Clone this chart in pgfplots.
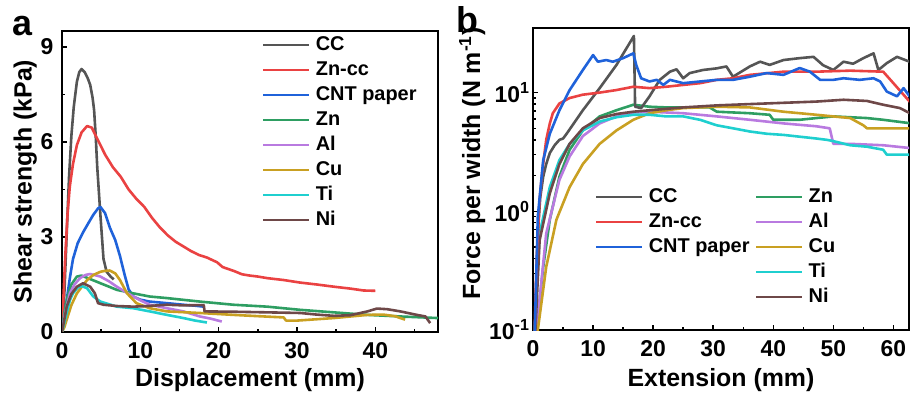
\documentclass[border=0pt]{standalone}
\usepackage{fontspec}
\setmainfont{Liberation Sans}
\usepackage{pgfplots}
\pgfplotsset{compat=1.18}
\definecolor{cCC}{HTML}{555555}
\definecolor{cZncc}{HTML}{EA4242}
\definecolor{cCNT}{HTML}{1F62DA}
\definecolor{cZn}{HTML}{2E9E62}
\definecolor{cAl}{HTML}{B97AE0}
\definecolor{cCu}{HTML}{C9A022}
\definecolor{cTi}{HTML}{1FCFCF}
\definecolor{cNi}{HTML}{6E4848}
\pgfplotsset{
  myaxis/.style={
    scale only axis, width=376bp,
    axis line style={line width=1.9bp},
    every tick/.style={line width=1.4bp, black},
    major tick length=5bp, minor tick length=3bp,
    xtick pos=bottom, ytick pos=left, tick align=inside,
    /pgf/number format/assume math mode=true,
    tick label style={font=\bfseries\fontsize{23}{23}\selectfont},
    xticklabel style={yshift=-7bp},
    label style={font=\bfseries\fontsize{25}{25}\selectfont},
    every axis plot/.append style={line width=2.6bp, line join=round},
    legend style={draw=none, fill=none, inner sep=0pt, outer sep=0pt,
      font=\bfseries\fontsize{20}{20}\selectfont,
      nodes={inner sep=0pt, anchor=west, text height=15bp, text depth=4bp},
      row sep=6bp, column sep=5bp},
    legend cell align=left,
    legend image code/.code={\draw[##1,line width=2.8bp] (0bp,0bp) -- (46bp,0bp);},
  }
}
\begin{document}
\begin{tikzpicture}
\path[use as bounding box] (0,0) rectangle (910bp,396bp);
\node[font=\bfseries\fontsize{36}{36}\selectfont, inner sep=0pt] at (22.5bp,370bp) {a};
\node[font=\bfseries\fontsize{36}{36}\selectfont, inner sep=0pt] at (467bp,376bp) {b};
% Panel a
\begin{axis}[myaxis, height=301bp, at={(62bp,64bp)}, anchor=south west,
  xmin=0, xmax=48, ymin=0, ymax=9.5,
  xtick={0,10,20,30,40}, ytick={0,3,6,9},
  minor xtick={5,15,25,35,45}, minor ytick={1.5,4.5,7.5},
  yticklabel style={xshift=-5bp},
  xlabel={Displacement (mm)}, ylabel={Shear strength (kPa)},
  xlabel style={at={(axis description cs:0.5,-0.16)}, anchor=center},
  ylabel style={at={(axis description cs:-0.098,0.5)}, anchor=center},
  legend style={at={(axis description cs:0.532,0.985)}, anchor=north west},
]
\addplot[cCC] coordinates {(0,0) (0.3,1.2) (0.6,3.1) (0.9,4.9) (1.2,6.2) (1.5,7.1) (1.9,7.9) (2.2,8.2) (2.5,8.3) (2.9,8.2) (3.3,8.0) (3.6,7.8) (3.9,7.4) (4.1,7.0) (4.3,6.2) (4.5,5.2) (4.9,3.7) (5.3,2.3) (5.7,1.9) (6.2,1.75) (6.6,1.66)};
\addlegendentry{CC}
\addplot[cZncc] coordinates {(0,0) (0.2,1.2) (0.4,2.3) (0.7,3.7) (1.0,4.6) (1.4,5.3) (1.9,5.9) (2.5,6.3) (3.2,6.5) (3.8,6.45) (4.5,6.1) (5.5,5.6) (6.5,5.2) (7.5,4.9) (8.5,4.5) (9.5,4.2) (10.5,3.95) (11.5,3.6) (12.5,3.3) (13.5,3.05) (14.5,2.85) (15.5,2.7) (16.5,2.55) (17.5,2.43) (18.5,2.35) (19.8,2.2) (20.5,2.05) (21.9,1.93) (23,1.82) (24,1.78) (25,1.75) (26.2,1.7) (28.3,1.64) (30.4,1.56) (32.5,1.5) (34.7,1.43) (36.8,1.37) (38.5,1.31) (40,1.3)};
\addlegendentry{Zn-cc}
\addplot[cCNT] coordinates {(0,0) (0.3,0.5) (0.6,1.0) (1.0,1.7) (1.4,2.3) (2.0,2.8) (2.7,3.15) (3.4,3.45) (4.0,3.7) (4.6,3.9) (4.9,3.95) (5.5,3.75) (6.1,3.3) (6.8,2.9) (7.4,2.4) (8.0,1.8) (8.5,1.35) (9.1,1.12) (10,1.02) (11.2,0.96) (13.4,0.91) (15.5,0.86) (17,0.83) (18.1,0.8)};
\addlegendentry{CNT paper}
\addplot[cZn] coordinates {(0,0) (0.3,0.6) (0.7,1.1) (1.2,1.5) (1.9,1.75) (2.5,1.78) (3.5,1.68) (4.9,1.54) (7,1.33) (9.1,1.22) (11.2,1.12) (13.4,1.07) (17.6,0.96) (21.9,0.86) (26.2,0.8) (30.4,0.7) (34.7,0.62) (39,0.54) (43.2,0.49) (48,0.44)};
\addlegendentry{Zn}
\addplot[cAl] coordinates {(0,0) (0.4,0.6) (1,1.22) (1.6,1.5) (2.3,1.7) (3,1.8) (3.6,1.83) (4.9,1.75) (6,1.6) (7,1.43) (8,1.28) (9.1,1.12) (10,1.0) (11.2,0.86) (13.4,0.75) (15.5,0.65) (17.6,0.49) (19,0.42) (20.4,0.33)};
\addlegendentry{Al}
\addplot[cCu] coordinates {(0,0) (0.3,0.15) (0.6,0.39) (1.2,0.85) (1.9,1.22) (2.6,1.45) (3.2,1.64) (4,1.8) (4.9,1.9) (5.5,1.93) (6.1,1.94) (6.8,1.85) (7.4,1.64) (8.3,1.22) (9.5,0.91) (11.2,0.75) (13.4,0.65) (17.6,0.6) (21.9,0.54) (25,0.5) (28.3,0.46) (28.6,0.36) (30,0.36) (34.7,0.44) (39,0.54) (41,0.55) (42.5,0.5) (43.8,0.39)};
\addlegendentry{Cu}
\addplot[cTi] coordinates {(0,0) (0.3,0.3) (0.6,0.6) (1,1.0) (1.4,1.22) (2,1.4) (2.5,1.45) (3.2,1.38) (4,1.12) (4.9,0.96) (7,0.8) (9.1,0.75) (11.2,0.65) (13.4,0.54) (15.5,0.44) (17,0.36) (18.5,0.3)};
\addlegendentry{Ti}
\addplot[cNi] coordinates {(0,0) (0.3,0.4) (0.6,0.8) (1.2,1.2) (1.9,1.43) (2.7,1.54) (3.6,1.43) (4.2,1.22) (4.6,0.91) (5.3,0.86) (7,0.82) (9.1,0.8) (11,0.82) (13.4,0.86) (15.5,0.84) (18.1,0.85) (18.2,0.65) (21.9,0.64) (26.2,0.62) (30.4,0.6) (32.5,0.55) (34.7,0.51) (36.8,0.53) (39,0.65) (40.2,0.74) (41.5,0.72) (43.2,0.65) (45.3,0.54) (46.4,0.49) (47,0.28)};
\addlegendentry{Ni}
\end{axis}
% Panel b
\begin{axis}[myaxis, height=302bp, at={(533bp,66bp)}, anchor=south west,
  ymode=log, xmin=0, xmax=62.6, ymin=0.1, ymax=35,
  xtick={0,10,20,30,40,50,60}, minor xtick={5,15,25,35,45,55},
  ytick={0.1,1,10}, yticklabels={10\textsuperscript{-1},10\textsuperscript{0},10\textsuperscript{1}},
  xlabel={Extension (mm)}, ylabel={Force per width (N m\textsuperscript{-1})},
  xlabel style={at={(axis description cs:0.5,-0.166)}, anchor=center},
  ylabel style={at={(axis description cs:-0.162,0.551)}, anchor=center},
  legend style={at={(axis description cs:0.165,0.472)}, anchor=north west},
]
\addplot[cZn, forget plot] coordinates {(0.4,0.05) (0.6,0.1) (1.7,0.34) (2.8,0.85) (4.4,1.96) (6.1,3.3) (8.3,4.8) (11.1,6.3) (13.9,7.1) (16.7,7.9) (19.4,7.6) (22.2,7.5) (25,7.5) (29.4,7.5) (30.6,6.9) (36.1,6.7) (39.4,6.5) (40,5.9) (44.4,5.9) (47.2,6.1) (50,6.3) (55.6,6.1) (58.3,5.9) (63,5.5)};
\addplot[cAl, forget plot] coordinates {(0.4,0.05) (0.6,0.1) (2.2,0.65) (4.4,1.84) (6.1,2.9) (8.3,4.3) (11.1,5.5) (13.9,6.3) (16.7,6.8) (19.4,6.9) (25,6.7) (30.6,6.3) (36.1,5.9) (41.7,5.5) (47.2,5.2) (49.4,5.0) (50,3.7) (52.8,3.7) (58.3,3.6) (63,3.4)};
\addplot[cCu, forget plot] coordinates {(0.6,0.05) (0.8,0.1) (2.2,0.34) (3.9,0.85) (6.1,1.6) (8.3,2.5) (11.1,3.7) (13.9,4.8) (16.7,5.9) (19.4,6.7) (22.2,7.1) (25,7.4) (30.6,7.6) (36.1,7.5) (41.7,6.9) (47.2,6.5) (52.8,6.1) (55,5.3) (55.6,5.0) (63,5.0)};
\addplot[cTi, forget plot] coordinates {(0.2,0.05) (0.3,0.1) (1.1,0.65) (2.8,1.6) (4.4,2.7) (6.1,3.7) (8.3,4.8) (11.1,5.7) (13.9,6.2) (16.7,6.5) (19.4,6.5) (22.2,6.3) (25,6.3) (27.8,5.9) (30.6,5.3) (33.3,5.0) (36.1,4.7) (38.9,4.5) (41.7,4.4) (47.2,4.1) (48.9,4.0) (50,3.9) (52.8,3.6) (55.6,3.5) (58.3,3.3) (58.9,3.0) (63,3.0)};
\addplot[cNi, forget plot] coordinates {(0.25,0.05) (0.4,0.1) (1.1,0.57) (2.8,1.42) (4.4,2.5) (6.1,3.7) (8.3,5.0) (11.1,6.1) (13.9,6.6) (16.7,6.9) (19.4,7.1) (25,7.5) (30.6,7.8) (36.1,8.0) (41.7,8.2) (47.2,8.4) (51.7,8.7) (55.6,8.5) (58.3,7.9) (61.1,7.4) (63,6.6)};
\addplot[cCC] coordinates {(0.2,0.05) (0.3,0.1) (0.8,0.65) (1.2,1.3) (1.7,1.96) (2.2,2.5) (2.8,3.1) (3.6,3.6) (4.4,4.0) (5.0,4.1) (5.6,4.5) (8.3,7.1) (11.1,10.9) (13.9,17.1) (16.8,30) (17.0,7.6) (18,7.4) (19.4,9.3) (21.1,12.8) (22.8,15) (23.9,15.7) (25,13.2) (26.1,14.6) (28.3,15.5) (30.6,16) (32.2,16.6) (33.3,13.6) (36.1,16.6) (37.8,18.2) (39.4,17.1) (41.7,18.8) (44.4,19.5) (46.7,20) (48.3,17) (50,15.5) (51.7,18.2) (53.3,17.5) (55,19.5) (56.7,21.4) (57.5,15.5) (58.9,17.7) (60.6,20) (62.7,18.2) (63,18)};
\addlegendentry{CC}
\addplot[cZncc] coordinates {(0.2,0.05) (0.4,0.18) (0.7,0.5) (1.1,1.25) (1.6,2.3) (2.2,4) (2.8,5.5) (3.3,6.7) (4.4,8.1) (6.1,9.0) (8.3,9.6) (11.1,10) (13.9,10.5) (16.7,11.2) (19.4,10.9) (22.2,11.2) (25,11.6) (27.8,12) (30.6,12.8) (33.3,13.2) (36.1,14.1) (41.7,15) (47.2,15) (52.8,15.3) (58.3,15) (60,12) (62.7,8.4) (63,8.2)};
\addlegendentry{Zn-cc}
\addplot[cCNT] coordinates {(0.2,0.05) (0.3,0.1) (0.8,0.9) (1.7,2.7) (2.8,4.5) (4.4,7.1) (6.1,10.5) (8.3,15.5) (10,20.7) (10.8,18.2) (12.2,18.8) (13.3,18.2) (15,19.5) (16.7,21.4) (17.2,17) (18,13.2) (19.4,12.4) (20.6,12.8) (21.7,11.6) (22.8,12.8) (25,12) (27.8,12.4) (30.6,12.8) (33.3,12.8) (36.1,13.6) (38.9,14.6) (41.7,14.1) (44.4,16.1) (46.1,15) (47.8,12.8) (50,12.8) (51.7,13.2) (54.4,12.8) (56.7,13.2) (57.8,12.4) (58.9,10.2) (60.6,9.3) (61.7,10.9) (62.7,9.3) (63,9.0)};
\addlegendentry{CNT paper}
\end{axis}
% Panel b, second legend column
\begin{axis}[myaxis, height=302bp, at={(533bp,66bp)}, anchor=south west,
  hide axis, xmin=0, xmax=1, ymin=0, ymax=1,
  legend style={at={(axis description cs:0.590,0.472)}, anchor=north west},
]
\addlegendimage{cZn, line width=2.6bp}\addlegendentry{Zn}
\addlegendimage{cAl, line width=2.6bp}\addlegendentry{Al}
\addlegendimage{cCu, line width=2.6bp}\addlegendentry{Cu}
\addlegendimage{cTi, line width=2.6bp}\addlegendentry{Ti}
\addlegendimage{cNi, line width=2.6bp}\addlegendentry{Ni}
\end{axis}
\end{tikzpicture}
\end{document}
